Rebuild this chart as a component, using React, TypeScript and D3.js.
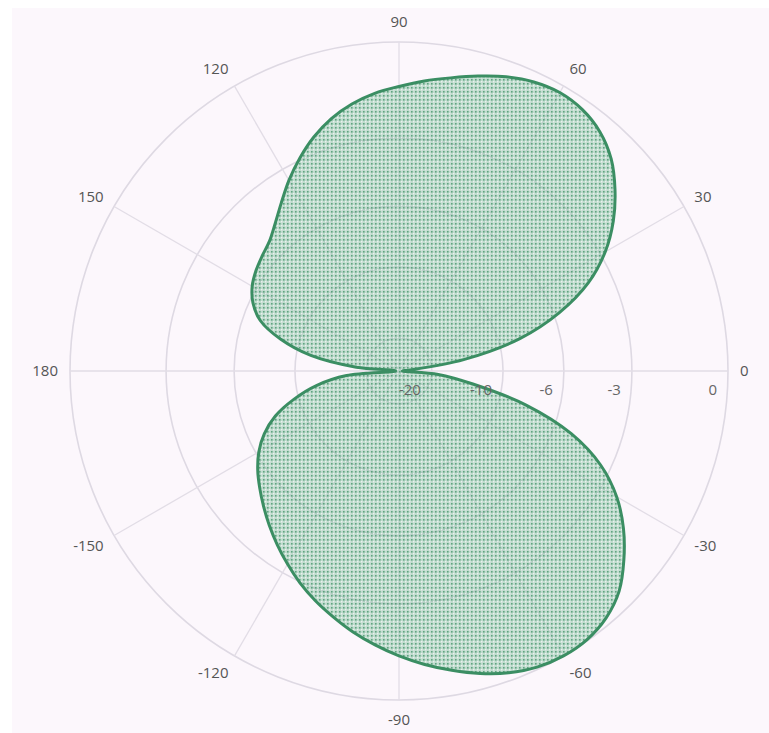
import React from "react";
import * as d3 from "d3";

// Pattern angles (degrees, counter-clockwise from 0° = east) and gain (dB)
const angleDeg = [
  0, 5, 10, 15, 20, 25, 30, 35, 40, 45, 50, 55, 60, 65, 70, 75, 80, 85, 90,
  95, 100, 105, 110, 115, 120, 125, 130, 135, 140, 145, 150, 155, 160, 165, 170, 175, 180,
  -175, -170, -165, -160, -155, -150, -145, -140, -135, -130, -125, -120, -115, -110,
  -105, -100, -95, -90, -85, -80, -75, -70, -65, -60, -55, -50, -45, -40, -35, -30,
  -25, -20, -15, -10, -5,
];
const gainDb = [
  -40, -30.5, -14.0, -8.4, -5.7, -3.94, -2.81, -1.99, -1.34, -0.8, -0.45, -0.26, -0.2, -0.27, -0.43, -0.65, -0.87, -1.06, -1.26,
  -1.44, -1.68, -2.0, -2.42, -2.93, -3.49, -4.1, -4.65, -5.08, -5.3, -5.5, -5.76, -6.2, -6.96, -8.59, -11.3, -17.7, -40,
  -15.92, -11.87, -9.63, -7.96, -6.9, -6.16, -5.61, -5.15, -4.7, -4.25, -3.81, -3.38, -2.96, -2.58,
  -2.23, -1.88, -1.56, -1.25, -0.96, -0.69, -0.43, -0.21, -0.06, 0, -0.03, -0.18, -0.48, -0.99, -1.59, -2.34,
  -3.4, -5.08, -7.96, -12.84, -18.42,
];

const ringDb = [-20, -10, -6, -3, 0];
const ringLabels = ["-20", "-10", "-6", "-3", "0"];
const angleTicks = [0, 30, 60, 90, 120, 150, 180, -150, -120, -90, -60, -30];
const angleTickLabels = ["0", "30", "60", "90", "120", "150", "180", "-150", "-120", "-90", "-60", "-30"];

const W = 769;
const H = 733;
const cx = 399;
const cy = 371;
const R = 329;
const FS = 15;

export default function App() {
  // amplitude-linear radial scale, labelled in dB
  const amp = d3.scaleLinear().domain([0, 1]).range([0, R]);
  const rOf = (db: number) => amp(Math.pow(10, db / 20));
  const toRad = (deg: number) => ((90 - deg) * Math.PI) / 180;

  const pts = angleDeg.map((a, i) => ({ a, db: gainDb[i] }));
  const line = d3
    .lineRadial<{ a: number; db: number }>()
    .angle((d) => toRad(d.a))
    .radius((d) => rOf(d.db))
    .curve(d3.curveCatmullRomClosed.alpha(0.5));
  const pathD = line(pts) || "";

  return (
    <svg
      width={W}
      height={H}
      style={{ position: "absolute", left: 0, top: 0, display: "block" }}
      fontFamily="'Open Sans', 'Liberation Sans', Arial, sans-serif"
    >
      <defs>
        <pattern id="dots" width={4} height={4} patternUnits="userSpaceOnUse">
          <rect width={4} height={4} fill="rgba(110,180,142,0.42)" />
          <rect x={0} y={0} width={1.6} height={1.6} fill="rgba(62,145,102,0.75)" />
          <rect x={2} y={2} width={1.4} height={1.4} fill="rgba(255,255,255,0.65)" />
        </pattern>
      </defs>
      <rect x={12} y={8} width={W - 12} height={H - 8} fill="#fcf7fc" />
      <g transform={`translate(${cx},${cy})`}>
        {/* rings */}
        {ringDb.map((db) => (
          <circle
            key={"r" + db}
            r={rOf(db)}
            fill="none"
            stroke="#ded9e3"
            strokeWidth={1.6}
          />
        ))}
        {/* spokes */}
        {angleTicks.map((a) => {
          const t = toRad(a);
          return (
            <line
              key={"s" + a}
              x1={0}
              y1={0}
              x2={R * Math.sin(t)}
              y2={-R * Math.cos(t)}
              stroke="#e2dde6"
              strokeWidth={1.3}
            />
          );
        })}
        {/* data */}
        <path d={pathD} fill="url(#dots)" stroke="none" />
        <path d={pathD} fill="none" stroke="#3b8e63" strokeWidth={3} strokeLinejoin="round" />
        {/* radial tick labels */}
        {ringDb.map((db, i) => (
          <text
            key={"rl" + db}
            x={rOf(db) - 11}
            y={19}
            dy="0.35em"
            textAnchor="end"
            fontSize={FS}
            fill="#666"
          >
            {ringLabels[i]}
          </text>
        ))}
        {/* angular tick labels */}
        {angleTicks.map((a, i) => {
          const lab = angleTickLabels[i];
          const rad = (a * Math.PI) / 180;
          const c = Math.cos(rad);
          const s = Math.sin(rad);
          const dist = R + 12;
          const anchor = c > 0.01 ? "start" : c < -0.01 ? "end" : "middle";
          return (
            <text
              key={"al" + a}
              x={dist * c}
              y={-dist * s - s * 8}
              dy="0.35em"
              textAnchor={anchor}
              fontSize={FS}
              fill="#555"
            >
              {lab}
            </text>
          );
        })}
      </g>
    </svg>
  );
}
